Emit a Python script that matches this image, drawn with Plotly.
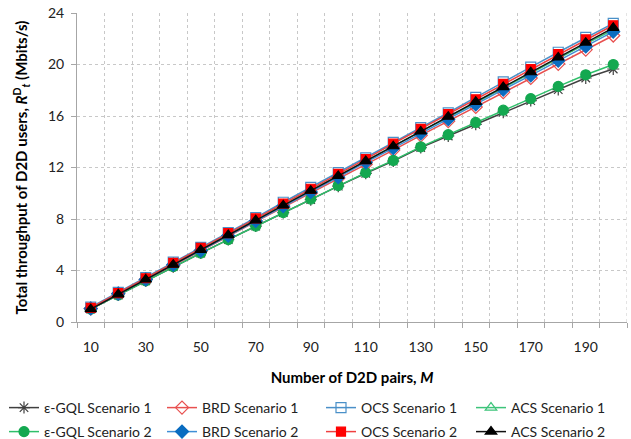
import plotly.graph_objects as go

# Number of D2D pairs (category axis)
pairs_m = [10, 20, 30, 40, 50, 60, 70, 80, 90, 100,
           110, 120, 130, 140, 150, 160, 170, 180, 190, 200]
x_tick_labels = [10, 30, 50, 70, 90, 110, 130, 150, 170, 190]
y_tick_values = [0, 4, 8, 12, 16, 20, 24]

# Total throughput of D2D users (Mbits/s)
egql_s1 = [1.0, 2.1, 3.2, 4.3, 5.35, 6.4, 7.45, 8.5, 9.5, 10.55,
           11.55, 12.5, 13.55, 14.45, 15.35, 16.3, 17.2, 18.05, 18.95, 19.65]
brd_s1 = [1.05, 2.2, 3.3, 4.4, 5.5, 6.65, 7.8, 8.9, 10.0, 11.15,
          12.25, 13.35, 14.5, 15.6, 16.7, 17.85, 18.95, 20.05, 21.15, 22.25]
ocs_s1 = [1.15, 2.3, 3.45, 4.65, 5.8, 6.95, 8.1, 9.3, 10.45, 11.6,
          12.75, 13.95, 15.1, 16.25, 17.45, 18.65, 19.8, 20.95, 22.1, 23.2]
acs_s1 = [1.05, 2.2, 3.35, 4.5, 5.65, 6.8, 7.95, 9.1, 10.25, 11.4,
          12.5, 13.65, 14.8, 15.9, 17.05, 18.2, 19.3, 20.45, 21.6, 22.7]
egql_s2 = [1.0, 2.1, 3.2, 4.3, 5.35, 6.4, 7.45, 8.5, 9.55, 10.6,
           11.6, 12.55, 13.6, 14.55, 15.5, 16.45, 17.35, 18.3, 19.2, 20.0]
brd_s2 = [1.05, 2.2, 3.3, 4.45, 5.55, 6.7, 7.85, 9.0, 10.1, 11.25,
          12.4, 13.5, 14.65, 15.75, 16.9, 18.05, 19.15, 20.3, 21.4, 22.55]
ocs_s2 = [1.1, 2.25, 3.4, 4.6, 5.75, 6.9, 8.05, 9.2, 10.35, 11.5,
          12.65, 13.85, 15.0, 16.15, 17.3, 18.5, 19.65, 20.8, 21.95, 23.05]
acs_s2 = [1.0, 2.15, 3.3, 4.45, 5.6, 6.75, 7.9, 9.05, 10.2, 11.35,
          12.5, 13.65, 14.8, 15.95, 17.1, 18.25, 19.4, 20.55, 21.7, 22.85]

FONT = "Lato"
W, H = 631, 439

# name, values, line colour, marker symbol, marker colour, marker size
series = [
    ("ε-GQL Scenario 1", egql_s1, "#404040", "asterisk-open", "#404040", 10),
    ("BRD Scenario 1", brd_s1, "#e8504f", "diamond-open", "#e8504f", 10),
    ("OCS Scenario 1", ocs_s1, "#4a90c8", "square-open", "#4a90c8", 10),
    ("ACS Scenario 1", acs_s1, "#3dc47a", "triangle-up-open", "#3dc47a", 10),
    ("ε-GQL Scenario 2", egql_s2, "#2fbf6a", "circle", "#14a850", 10),
    ("BRD Scenario 2", brd_s2, "#3f8fd6", "diamond", "#0a6cc0", 10),
    ("OCS Scenario 2", ocs_s2, "#f04040", "square", "#ff0000", 9),
    ("ACS Scenario 2", acs_s2, "#111111", "triangle-up", "#000000", 10),
]

# legend grid: 4 columns x 2 rows (pixel positions in the page)
legend_cols_px = [4, 162, 321, 471]
legend_rows_px = [408, 432]

fig = go.Figure()
legend_layout = {}
for i, (name, vals, lcol, sym, mcol, size) in enumerate(series):
    key = "legend" if i == 0 else f"legend{i + 1}"
    fig.add_trace(go.Scatter(
        x=pairs_m, y=vals, name=name, mode="lines+markers", legend=key,
        line=dict(color=lcol, width=1.5),
        marker=dict(symbol=sym, size=size, color=mcol,
                    line=dict(color=mcol, width=1.2)),
    ))
    col, row = i % 4, i // 4
    legend_layout[key] = dict(
        orientation="h", xref="container", yref="container",
        x=legend_cols_px[col] / W, xanchor="left",
        y=1 - legend_rows_px[row] / H, yanchor="middle",
        font=dict(size=14, color="#222222"), itemwidth=30,
        bgcolor="rgba(0,0,0,0)",
    )

# invisible helper trace to activate the gridline axis
fig.add_trace(go.Scatter(x=[5, 205], y=[0, 0], xaxis="x2", mode="lines",
                         line=dict(width=0), showlegend=False,
                         hoverinfo="skip"))

grid_col = "#c8c8c8"
fig.update_layout(
    width=W, height=H,
    margin=dict(l=77, r=4, t=13, b=117, autoexpand=False),
    paper_bgcolor="white", plot_bgcolor="white",
    font=dict(family=FONT, size=14, color="#222222"),
    xaxis=dict(
        range=[5, 205], tickmode="array", tickvals=x_tick_labels,
        showgrid=False, zeroline=False, showline=True,
        linecolor="#a6a6a6", linewidth=1, ticks="",
        ticklabelstandoff=12, tickfont=dict(size=14),
        title=dict(text="<b>Number of D2D pairs, <i>M</i></b>",
                   font=dict(size=15, color="#000000"), standoff=18),
    ),
    xaxis2=dict(
        range=[5, 205], overlaying="x", side="bottom",
        tickmode="linear", tick0=15, dtick=10,
        showticklabels=False, showgrid=True, gridcolor=grid_col,
        griddash="dot", gridwidth=1, zeroline=False,
        ticks="outside", ticklen=5, tickcolor="#a6a6a6",
        showline=False,
    ),
    yaxis=dict(
        range=[0, 24], tickmode="array", tickvals=y_tick_values,
        showgrid=True, gridcolor=grid_col, griddash="dot", gridwidth=1,
        zeroline=False, showline=True, linecolor="#a6a6a6", linewidth=1,
        ticks="outside", ticklen=5, tickcolor="#a6a6a6",
        tickfont=dict(size=14), ticklabelstandoff=4,
        title=dict(text="<b>Total throughput of D2D users, <i>R</i><sup>D</sup><sub><i>t</i></sub> (Mbits/s)</b>",
                   font=dict(size=15, color="#000000"), standoff=16),
    ),
    **legend_layout,
)

# right border drawn in the grid style
fig.add_shape(type="line", xref="x2", yref="paper", x0=205, x1=205, y0=0, y1=1,
              line=dict(color=grid_col, width=1, dash="dot"), layer="below")

fig.write_html("out.html")
